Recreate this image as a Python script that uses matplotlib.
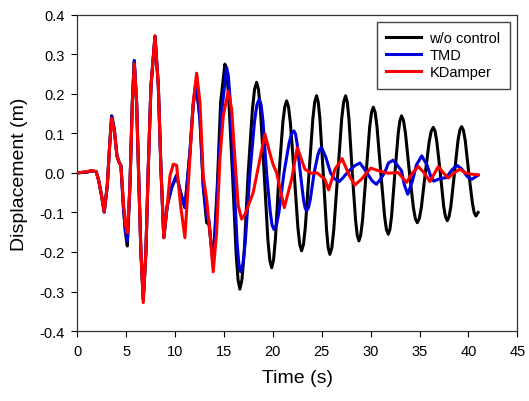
import matplotlib
matplotlib.use("Agg")
import matplotlib.pyplot as plt
from matplotlib.ticker import FormatStrFormatter

plt.rcParams['font.family'] = ['Liberation Sans', 'DejaVu Sans']
plt.rcParams['axes.unicode_minus'] = False

# w/o control
t_free = [0, 1.0, 1.45, 1.94, 2.2, 2.49, 2.76, 3.07, 3.31, 3.52, 3.79, 4.06, 4.26, 4.47, 4.71,
          4.92, 5.12, 5.39, 5.63, 5.83, 6.07, 6.31, 6.51, 6.75, 7.02, 7.26, 7.54, 7.95, 8.29,
          8.56, 8.85, 9.2, 9.65, 10.16, 10.57, 11.01, 11.52, 11.85, 12.14, 12.55, 12.88, 13.23,
          13.47, 13.9, 14.32, 14.66, 15.10,
          15.29, 15.48, 15.87, 16.25, 16.44, 16.63, 16.84, 17.06, 17.48, 17.91, 18.13, 18.34,
          18.53, 18.73, 19.11, 19.49, 19.69, 19.88, 20.07, 20.26, 20.64, 21.02, 21.22, 21.41,
          21.60, 21.79, 22.18, 22.56, 22.75, 22.94, 23.13, 23.32, 23.70, 24.09, 24.28, 24.47,
          24.64, 24.81, 25.15, 25.49, 25.66, 25.83, 26.03, 26.23, 26.64, 27.04, 27.24, 27.44,
          27.61, 27.78, 28.12, 28.46, 28.63, 28.80, 28.98, 29.17, 29.54, 29.90, 30.09, 30.27,
          30.46, 30.65, 31.04, 31.42, 31.61, 31.80, 31.97, 32.14, 32.48, 32.82, 32.99, 33.16,
          33.36, 33.56, 33.97, 34.37, 34.57, 34.77, 34.97, 35.18, 35.59, 35.99, 36.20, 36.40,
          36.58, 36.76, 37.12, 37.47, 37.65, 37.83, 38.01, 38.20, 38.57, 38.93, 39.12, 39.30,
          39.48, 39.67, 40.03, 40.40, 40.58, 40.76, 40.99]
y_free = [0, 0.002, 0.005, 0.003, -0.02, -0.058, -0.099, -0.033, 0.068, 0.144, 0.11, 0.043,
          0.028, 0.018, -0.083, -0.15, -0.185, -0.033, 0.178, 0.284, 0.178, -0.033, -0.2, -0.32,
          -0.2, 0.01, 0.22, 0.345, 0.22, 0.01, -0.164, -0.083, -0.038, -0.008, -0.05, -0.088,
          0.052, 0.17, 0.23, 0.136, -0.033, -0.126, -0.13, -0.228, -0.033, 0.178, 0.275,
          0.253, 0.193, 0.0, -0.206, -0.27, -0.294, -0.27, -0.206, 0.0, 0.16, 0.211, 0.229,
          0.211, 0.16, 0.0, -0.168, -0.221, -0.24, -0.221, -0.168, 0.0, 0.127, 0.167, 0.182,
          0.167, 0.127, 0.0, -0.138, -0.181, -0.197, -0.181, -0.138, 0.0, 0.137, 0.179, 0.195,
          0.179, 0.137, 0.0, -0.144, -0.19, -0.206, -0.19, -0.144, 0.0, 0.137, 0.179, 0.195,
          0.179, 0.137, 0.0, -0.12, -0.158, -0.172, -0.158, -0.12, 0.0, 0.116, 0.153, 0.166,
          0.153, 0.116, 0.0, -0.109, -0.143, -0.155, -0.143, -0.109, 0.0, 0.1, 0.132, 0.144,
          0.132, 0.1, 0.0, -0.088, -0.116, -0.126, -0.116, -0.088, 0.0, 0.08, 0.106, 0.115,
          0.106, 0.08, 0.0, -0.085, -0.111, -0.121, -0.111, -0.085, 0.0, 0.082, 0.108, 0.117,
          0.108, 0.082, 0.0, -0.076, -0.1, -0.109, -0.1]

# TMD
t_tmd = [0, 1.0, 1.45, 1.94, 2.2, 2.49, 2.76, 3.07, 3.31, 3.52, 3.79, 4.06, 4.26, 4.47, 4.71,
         4.92, 5.12, 5.39, 5.63, 5.83, 6.07, 6.31, 6.51, 6.75, 7.02, 7.26, 7.54, 7.95, 8.29,
         8.56, 8.85, 9.2, 9.65, 10.16, 10.57, 11.01, 11.52, 11.85, 12.14, 12.55, 12.88, 13.23,
         13.47, 13.9, 14.32, 14.75, 15.27,
         15.45, 15.63, 15.99, 16.34, 16.52, 16.70, 16.94, 17.18, 17.66, 18.13, 18.37, 18.61,
         18.80, 18.99, 19.36, 19.74, 19.92, 20.11, 20.37, 20.62, 21.14, 21.65, 21.90, 22.16,
         22.32, 22.48, 22.81, 23.13, 23.29, 23.45, 23.64, 23.83, 24.22, 24.60, 24.79, 24.98,
         25.41, 25.90, 26.30, 26.79, 27.18, 27.78, 28.37, 28.90, 29.35, 29.75, 30.14, 30.58,
         31.03, 31.46, 31.82, 32.29, 32.71, 33.16, 33.44, 33.79, 34.28, 34.68, 35.22, 35.76,
         36.16, 36.45, 37.04, 37.73, 38.33, 38.82, 39.31, 39.90, 40.35, 40.99]
y_tmd = [0, 0.002, 0.005, 0.003, -0.02, -0.058, -0.099, -0.033, 0.068, 0.144, 0.11, 0.043,
         0.028, 0.018, -0.083, -0.145, -0.172, -0.033, 0.178, 0.284, 0.178, -0.033, -0.2, -0.32,
         -0.2, 0.01, 0.22, 0.345, 0.22, 0.01, -0.164, -0.083, -0.036, -0.005, -0.05, -0.088,
         0.052, 0.17, 0.228, 0.136, -0.03, -0.11, -0.12, -0.235, -0.05, 0.15, 0.267,
         0.245, 0.187, 0.0, -0.175, -0.23, -0.25, -0.23, -0.175, 0.0, 0.131, 0.172, 0.187,
         0.172, 0.131, 0.0, -0.1, -0.132, -0.143, -0.132, -0.1, 0.0, 0.074, 0.098, 0.106,
         0.098, 0.074, 0.0, -0.067, -0.088, -0.096, -0.088, -0.067, 0.0, 0.045, 0.059, 0.064,
         0.04, 0.0, -0.015, -0.022, -0.012, 0.005, 0.018, 0.025, 0.01, -0.005, -0.02, -0.029,
         -0.015, 0.002, 0.025, 0.032, 0.02, 0.005, -0.03, -0.054, -0.02, 0.02, 0.043, 0.02,
         -0.01, -0.021, -0.015, -0.012, 0.008, 0.019, 0.01, -0.01, -0.016, -0.006]

# KDamper
t_kd = [0, 1.0, 1.45, 1.94, 2.2, 2.49, 2.76, 3.07, 3.31, 3.52, 3.79, 4.06, 4.26, 4.47, 4.71,
        4.92, 5.12, 5.39, 5.63, 5.83, 6.07, 6.31, 6.51, 6.75, 7.02, 7.26, 7.54, 7.95, 8.29,
        8.56, 8.85, 9.2, 9.48, 9.82, 10.16, 10.57, 11.01, 11.45, 11.86, 12.21, 12.55, 12.88,
        13.23, 13.57, 13.9, 14.25, 14.59, 14.93, 15.44, 15.79, 16.12, 16.46, 16.81, 17.15,
        17.99, 18.68, 19.19, 19.69, 20.04, 20.38, 21.17, 21.92, 22.50, 23.28, 23.93, 24.52,
        25.31, 25.70, 26.35, 27.08, 27.78, 28.37, 29.06, 30.00, 30.73, 31.82, 32.80, 33.67,
        34.28, 34.87, 35.47, 36.06, 36.92, 37.44, 37.93, 38.52, 39.11, 39.71, 40.20, 40.99]
y_kd = [0, 0.003, 0.006, 0.003, -0.02, -0.058, -0.099, -0.033, 0.065, 0.138, 0.108, 0.043,
        0.028, 0.018, -0.07, -0.13, -0.151, -0.033, 0.17, 0.276, 0.178, -0.033, -0.2, -0.328,
        -0.2, 0.01, 0.22, 0.347, 0.22, 0.01, -0.164, -0.083, -0.008, 0.022, 0.019, -0.083,
        -0.164, 0.01, 0.178, 0.252, 0.178, -0.008, -0.067, -0.151, -0.25, -0.151, 0.035,
        0.144, 0.207, 0.161, 0.035, -0.083, -0.117, -0.105, -0.05, 0.035, 0.098, 0.05, 0.02,
        0.001, -0.088, -0.016, 0.064, 0.009, -0.001, 0.0, -0.016, -0.043, 0.009, 0.036,
        -0.005, -0.031, -0.016, 0.012, 0.006, -0.001, 0.001, -0.024, 0.0, 0.016, 0.0, -0.022,
        0.016, 0.0, -0.013, 0.0, 0.009, 0.0, -0.003, -0.005]

fig = plt.figure(figsize=(5.29, 4.02), dpi=100)
ax = fig.add_axes([0.146, 0.174, 0.832, 0.787])

ax.plot(t_free, y_free, color='black', lw=2.2, label='w/o control')
ax.plot(t_tmd, y_tmd, color='#0000dd', lw=2.2, label='TMD')
ax.plot(t_kd, y_kd, color='#ff0000', lw=2.2, label='KDamper')

ax.set_xlim(0, 45)
ax.set_ylim(-0.4, 0.4)
ax.set_xticks(range(0, 46, 5))
ax.set_yticks([-0.4, -0.3, -0.2, -0.1, 0.0, 0.1, 0.2, 0.3, 0.4])
ax.yaxis.set_major_formatter(FormatStrFormatter('%.1f'))
ax.tick_params(direction='out', length=4, width=0.8, labelsize=10.5, pad=5)
for s in ax.spines.values():
    s.set_linewidth(0.9)
    s.set_color('#333333')

ax.set_xlabel('Time (s)', fontsize=14, labelpad=8)
ax.set_ylabel('Displacement (m)', fontsize=14, labelpad=8)

leg = ax.legend(loc='upper right', fontsize=10.5, handlelength=2.4, handletextpad=0.55,
                labelspacing=0.2, borderpad=0.65, fancybox=False, framealpha=1)
leg.get_frame().set_edgecolor('#444444')
leg.get_frame().set_linewidth(1.0)

fig.savefig('out.png', dpi=100)
